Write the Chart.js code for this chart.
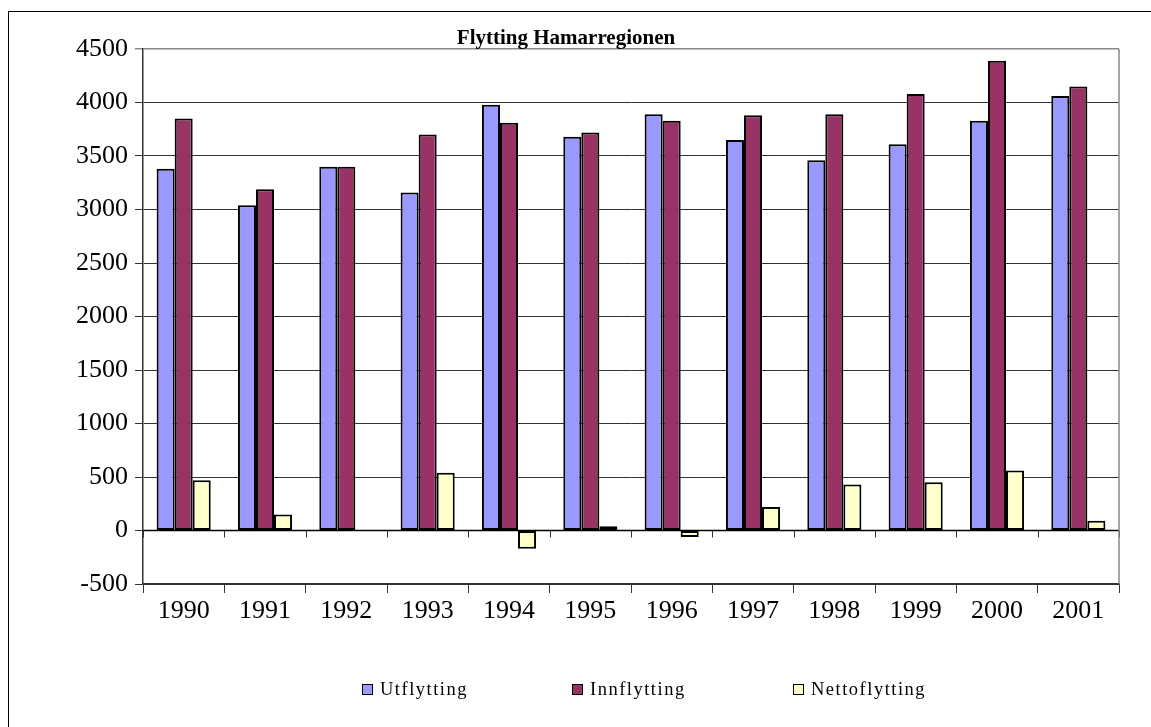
<!DOCTYPE html>
<html>
<head>
<meta charset="utf-8">
<script src="https://cdn.jsdelivr.net/npm/chart.js@4/dist/chart.umd.min.js"></script>
<style>
  html, body { margin: 0; padding: 0; background: #fff; overflow: hidden; }
  body { width: 1151px; height: 727px; position: relative; font-family: "Liberation Serif", "Times New Roman", serif; }
  #frame { position: absolute; left: 8px; top: 11px; width: 1200px; height: 800px; border: 1.5px solid #000; }
  #chart { position: absolute; left: 0; top: 0; }
  #title { position: absolute; left: 366px; width: 400px; top: 24px; text-align: center; font-weight: bold; font-size: 21px; line-height: 26px; }
  .leg { position: absolute; top: 677px; font-size: 18.5px; letter-spacing: 1.5px; line-height: 24px; white-space: nowrap; }
  .leg i { display: inline-block; width: 9px; height: 9px; border: 1.5px solid #000; margin-right: 7px; }
</style>
</head>
<body>
<div id="frame"></div>
<canvas id="chart" width="1151" height="727"></canvas>
<div id="title">Flytting Hamarregionen</div>
<div id="legend"></div>
<script>
// data
const years = ["1990", "1991", "1992", "1993", "1994", "1995", "1996", "1997", "1998", "1999", "2000", "2001"];
const utflytting = [3380, 3040, 3400, 3160, 3980, 3680, 3890, 3650, 3460, 3610, 3830, 4060];
const innflytting = [3850, 3190, 3400, 3700, 3810, 3720, 3830, 3880, 3890, 4080, 4390, 4150];
const nettoflytting = [470, 150, 0, 540, -170, 40, -60, 220, 430, 450, 560, 90];
const seriesNames = ["Utflytting", "Innflytting", "Nettoflytting"];
const seriesColors = ["#9999FF", "#993366", "#FFFFCC"];
const legendLeft = [362, 572, 793];

Chart.defaults.font.family = "'Liberation Serif', 'Times New Roman', serif";
Chart.defaults.color = "#000";

// small ticks along the zero line, at the category borders
const zeroLine = {
  id: "zeroLine",
  afterDatasetsDraw(chart) {
    const { ctx, scales: { x, y }, chartArea } = chart;
    const y0 = y.getPixelForValue(0);
    ctx.save();
    ctx.strokeStyle = "#000";
    ctx.lineWidth = 1.5;
    ctx.beginPath();
    ctx.moveTo(chartArea.left, y0);
    ctx.lineTo(chartArea.right, y0);
    ctx.stroke();
    ctx.strokeStyle = "#333";
    ctx.lineWidth = 1;
    const step = (chartArea.right - chartArea.left) / years.length;
    for (let i = 0; i <= years.length; i++) {
      const px = Math.round(chartArea.left + i * step) + 0.5;
      ctx.beginPath();
      ctx.moveTo(px, y0);
      ctx.lineTo(px, y0 + 7);
      ctx.stroke();
    }
    // grey frame on the right side
    ctx.strokeStyle = "#888";
    ctx.lineWidth = 1.5;
    ctx.beginPath();
    ctx.moveTo(chartArea.right, chartArea.top);
    ctx.lineTo(chartArea.right, chartArea.bottom);
    ctx.stroke();
    ctx.restore();
  }
};

const ctx = document.getElementById("chart").getContext("2d");
new Chart(ctx, {
  type: "bar",
  data: {
    labels: years,
    datasets: [utflytting, innflytting, nettoflytting].map((d, i) => ({
      label: seriesNames[i],
      data: d,
      backgroundColor: seriesColors[i],
      borderColor: "#000",
      borderWidth: 2,
      borderSkipped: false,
      categoryPercentage: 0.665,
      barPercentage: 1
    }))
  },
  options: {
    responsive: false,
    animation: false,
    layout: { padding: { top: 49, right: 32, left: 0, bottom: 83 } },
    plugins: {
      legend: { display: false },
      title: { display: false },
      tooltip: { enabled: false }
    },
    scales: {
      x: {
        afterFit(s) { s.height = 60; },
        grid: { offset: true, drawOnChartArea: false, tickLength: 9, color: "#333", lineWidth: 1 },
        border: { color: "#333", width: 1.5 },
        ticks: { font: { size: 26 }, padding: 3, maxRotation: 0 }
      },
      y: {
        min: -500,
        max: 4500,
        afterFit(s) { s.width = 143; },
        ticks: { stepSize: 500, font: { size: 26 }, padding: 7, callback: v => String(v) },
        grid: {
          tickLength: 8,
          color: c => c.tick && c.tick.value === 4500 ? "#888" : "#333",
          lineWidth: c => c.tick && c.tick.value === 4500 ? 1.5 : 1
        },
        border: { color: "#333", width: 1.5 }
      }
    }
  },
  plugins: [zeroLine]
});

// legend below the chart
const legend = document.getElementById("legend");
seriesNames.forEach((name, i) => {
  const item = document.createElement("div");
  item.className = "leg";
  item.style.left = legendLeft[i] + "px";
  item.innerHTML = `<i style="background:${seriesColors[i]}"></i>${name}`;
  legend.appendChild(item);
});
</script>
</body>
</html>
